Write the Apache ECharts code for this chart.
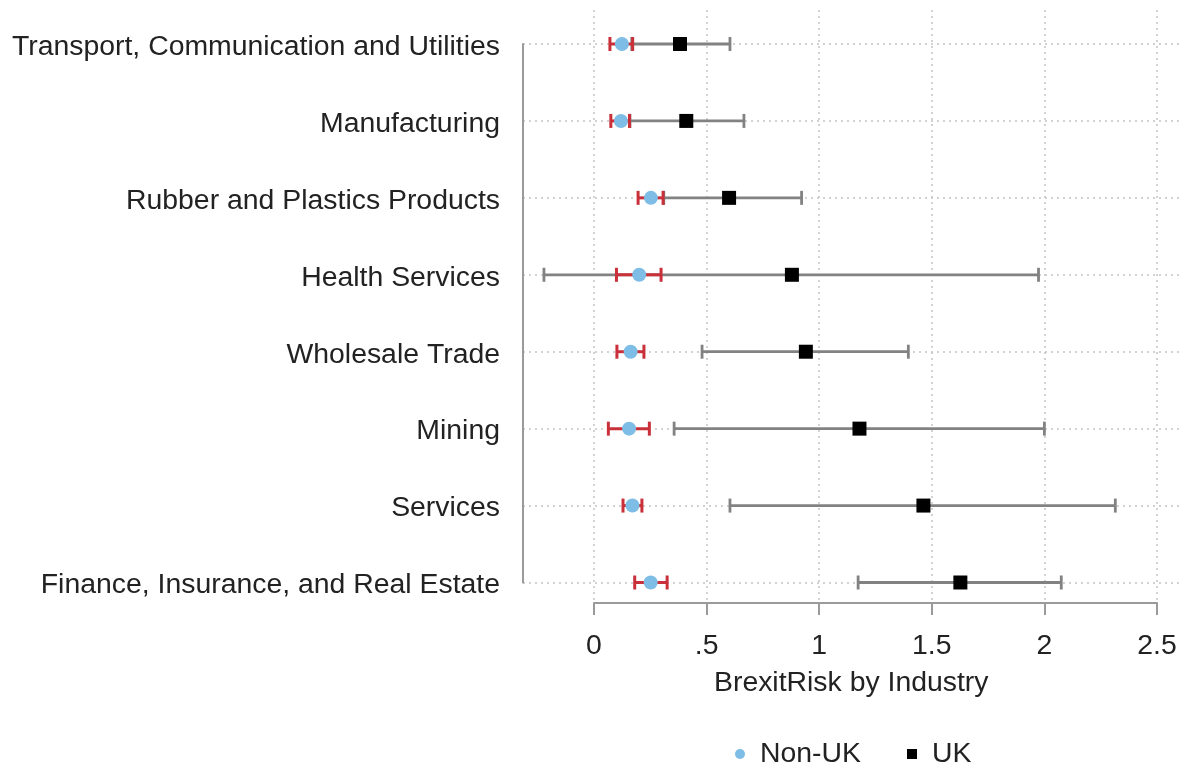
<!DOCTYPE html>
<html>
<head>
<meta charset="utf-8">
<script src="https://cdn.jsdelivr.net/npm/echarts@6/dist/echarts.min.js"></script>
<style>
  html, body { margin: 0; padding: 0; background: #fff; }
  #chart { width: 1187px; height: 771px; }
</style>
</head>
<body>
<div id="chart"></div>
<script>
// Industries, top to bottom
const categories = [
  'Transport, Communication and Utilities',
  'Manufacturing',
  'Rubber and Plastics Products',
  'Health Services',
  'Wholesale Trade',
  'Mining',
  'Services',
  'Finance, Insurance, and Real Estate'
];

// Non-UK firms: point estimate and confidence bounds
const nonUK   = [0.124, 0.120, 0.253, 0.201, 0.163, 0.156, 0.171, 0.252];
const nonUKLo = [0.071, 0.075, 0.196, 0.100, 0.102, 0.064, 0.129, 0.181];
const nonUKHi = [0.172, 0.158, 0.307, 0.298, 0.222, 0.246, 0.213, 0.325];

// UK firms: point estimate and confidence bounds
const uk   = [0.382, 0.410, 0.600, 0.879, 0.941, 1.179, 1.463, 1.627];
const ukLo = [0.168, 0.160, 0.310, -0.222, 0.480, 0.356, 0.604, 1.173];
const ukHi = [0.604, 0.666, 0.922, 1.974, 1.396, 2.000, 2.315, 2.075];

// x-axis ticks
const xTicks = [0, 0.5, 1, 1.5, 2, 2.5];
const tickLabel = v => (v > 0 && v < 1) ? String(v).replace(/^0/, '') : String(v);

const FONT = '"Liberation Sans", Arial, sans-serif';
const TEXT = '#222';
const FS = 28.4;
const X_MIN = -0.315, X_MAX = 2.6;

// horizontal range bar with end caps
function rangeBar(color, width, capHalf) {
  return function (params, api) {
    const a = api.coord([api.value(0), api.value(2)]);
    const b = api.coord([api.value(1), api.value(2)]);
    const style = { stroke: color, lineWidth: width };
    return {
      type: 'group',
      children: [
        { type: 'line', shape: { x1: a[0], y1: a[1], x2: b[0], y2: b[1] }, style },
        { type: 'line', shape: { x1: a[0], y1: a[1] - capHalf, x2: a[0], y2: a[1] + capHalf }, style },
        { type: 'line', shape: { x1: b[0], y1: b[1] - capHalf, x2: b[0], y2: b[1] + capHalf }, style }
      ]
    };
  };
}

const chart = echarts.init(document.getElementById('chart'), null, { renderer: 'canvas' });

chart.setOption({
  animation: false,
  textStyle: { fontFamily: FONT },
  grid: [
    // data area
    { left: 523, width: 656.5, top: 44, bottom: 188.5 },
    // frame carrying the visible x axis (0 .. 2.5) and vertical guides
    { left: 594, width: 563, top: 10, bottom: 168 }
  ],
  xAxis: [
    {
      gridIndex: 0, type: 'value', min: X_MIN, max: X_MAX,
      axisLine: { show: false },
      axisTick: { show: false },
      axisLabel: { show: false },
      splitLine: { show: false },
      name: 'BrexitRisk by Industry',
      nameLocation: 'middle',
      nameGap: 87,
      nameTextStyle: { color: TEXT, fontSize: FS, fontFamily: FONT }
    },
    {
      gridIndex: 1, type: 'value', min: xTicks[0], max: xTicks[xTicks.length - 1], interval: 0.5,
      axisLine: { show: true, lineStyle: { color: '#9a9a9a', width: 2 } },
      axisTick: { show: true, length: 12, lineStyle: { color: '#9a9a9a', width: 2 } },
      axisLabel: {
        margin: 29, color: TEXT, fontSize: FS, fontFamily: FONT,
        formatter: v => tickLabel(v)
      },
      splitLine: { show: true, lineStyle: { color: '#c4c4c4', width: 1.5, type: [2, 4] } }
    }
  ],
  yAxis: [
    {
      gridIndex: 0, type: 'category', data: categories, inverse: true, boundaryGap: false,
      axisLine: { show: true, onZero: false, lineStyle: { color: '#9a9a9a', width: 2 } },
      axisTick: { show: false },
      axisLabel: {
        margin: 23,
        formatter: v => '{t|' + v + '}',
        rich: { t: { color: TEXT, fontSize: FS, fontFamily: FONT, padding: [6, 0, 0, 0] } }
      },
      splitLine: { show: true, lineStyle: { color: '#c4c4c4', width: 1.5, type: [2, 4] } }
    },
    { gridIndex: 1, type: 'value', show: false, min: 0, max: 1 }
  ],
  legend: {
    left: 730, top: 735,
    itemWidth: 10, itemHeight: 10, itemGap: 46,
    textStyle: { color: TEXT, fontSize: FS, fontFamily: FONT, padding: [0, 0, 0, 10] },
    data: ['Non-UK', 'UK']
  },
  series: [
    {
      name: 'UK CI', type: 'custom', xAxisIndex: 0, yAxisIndex: 0, z: 2,
      renderItem: rangeBar('#828282', 2.8, 7),
      encode: { x: [0, 1], y: 2 },
      data: categories.map((c, i) => [ukLo[i], ukHi[i], i])
    },
    {
      name: 'Non-UK CI', type: 'custom', xAxisIndex: 0, yAxisIndex: 0, z: 3,
      renderItem: rangeBar('#c9303a', 3, 7),
      encode: { x: [0, 1], y: 2 },
      data: categories.map((c, i) => [nonUKLo[i], nonUKHi[i], i])
    },
    {
      name: 'UK', type: 'scatter', xAxisIndex: 0, yAxisIndex: 0, z: 4,
      symbol: 'rect', symbolSize: 14,
      itemStyle: { color: '#000', opacity: 1 },
      data: categories.map((c, i) => [uk[i], i])
    },
    {
      name: 'Non-UK', type: 'scatter', xAxisIndex: 0, yAxisIndex: 0, z: 5,
      symbol: 'circle', symbolSize: 14,
      itemStyle: { color: '#7dbde6', opacity: 1 },
      data: categories.map((c, i) => [nonUK[i], i])
    }
  ]
});
</script>
</body>
</html>
